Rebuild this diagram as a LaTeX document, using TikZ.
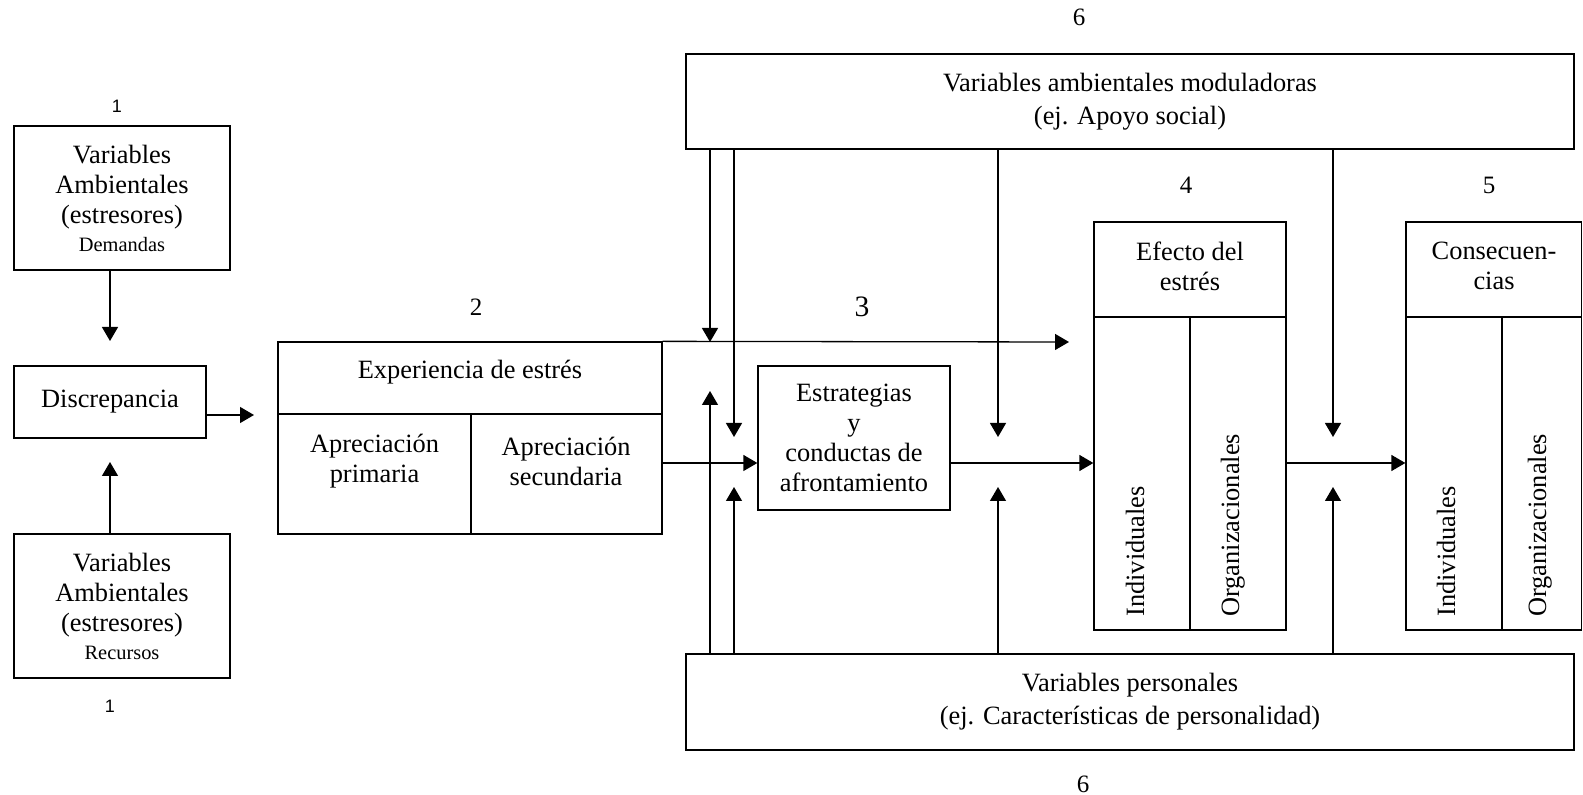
\documentclass[tikz,border=0pt]{standalone}
\usepackage{fontspec}
\setmainfont{Liberation Serif}
\newfontfamily\digitsans{Liberation Sans}
\usetikzlibrary{arrows.meta,calc}

\tikzset{
  frame/.style={draw, line width=0.65pt, inner sep=0pt},
  conn/.style={line width=0.65pt, -{Triangle[length=7pt,width=8pt]}},
  plain/.style={line width=0.65pt},
  txt/.style={align=center, inner sep=0pt, font=\fontsize{13.2}{15}\selectfont},
  widetxt/.style={align=center, inner sep=0pt, font=\fontsize{13.2}{16.5}\selectfont},
  num/.style={inner sep=0pt, font=\fontsize{12.5}{14}\selectfont},
  bignum/.style={inner sep=0pt, font=\fontsize{14.8}{16}\selectfont},
  sansnum/.style={inner sep=0pt, font=\digitsans\fontsize{9}{10}\selectfont},
  vtxt/.style={inner sep=0pt, rotate=90, anchor=base west, font=\fontsize{13.2}{15}\selectfont},
}

\begin{document}
\begin{tikzpicture}[x=0.5pt,y=-0.5pt]
\useasboundingbox (0,0) rectangle (1583,795);

% ---- left column: stressors and discrepancy
\node[frame, txt, minimum width=108pt, minimum height=72pt] (dem) at (122,198)
  {Variables\\Ambientales\\(estresores)\\[-1pt]{\fontsize{10.2}{12}\selectfont Demandas}};
\node[frame, txt, minimum width=96pt, minimum height=36pt] (dis) at (110,402) {Discrepancia};
\node[frame, txt, minimum width=108pt, minimum height=72pt] (rec) at (122,606)
  {Variables\\Ambientales\\(estresores)\\[-1pt]{\fontsize{10.2}{12}\selectfont Recursos}};
\node[sansnum] (n1a) at (117,106) {1};
\node[sansnum] (n1b) at (110,706) {1};

% ---- stress experience
\node[frame, minimum width=192pt, minimum height=96pt] (exp) at (470,438) {};
\draw[plain] (278,414) -- (662,414);
\draw[plain] (471,414) -- (471,534);
\node[txt] (expt) at (470,372) {Experiencia de estrés};
\node[txt] (ap1) at (374.5,461) {Apreciación\\primaria};
\node[txt] (ap2) at (566,461) {Apreciación\\secundaria};
\node[num] (n2) at (476,307) {2};

% ---- coping
\node[frame, txt, minimum width=96pt, minimum height=72pt] (est) at (854,438)
  {Estrategias\\y\\conductas de\\afrontamiento};
\node[bignum] (n3) at (862,307) {3};

% ---- effects of stress
\node[frame, minimum width=96pt, minimum height=204pt] (efe) at (1190,426) {};
\draw[plain] (1094,317) -- (1286,317);
\draw[plain] (1190,317) -- (1190,630);
\node[txt] (efet) at (1190,266) {Efecto del\\estrés};
\node[vtxt] (efe1) at (1144,617) {Individuales};
\node[vtxt] (efe2) at (1239,617) {Organizacionales};
\node[num] (n4) at (1186,185) {4};

% ---- consequences
\node[frame, minimum width=87.75pt, minimum height=204pt] (con) at (1493.75,426) {};
\draw[plain] (1406,317) -- (1581.5,317);
\draw[plain] (1502,317) -- (1502,630);
\node[txt] (cont) at (1494,266) {Consecuen-\\cias};
\node[vtxt] (con1) at (1455,617) {Individuales};
\node[vtxt] (con2) at (1546,617) {Organizacionales};
\node[num] (n5) at (1489,185) {5};

% ---- moderators
\node[frame, widetxt, minimum width=444pt, minimum height=47.5pt] (mod) at (1130,101.5)
  {Variables ambientales moduladoras\\(ej. Apoyo social)};
\node[frame, widetxt, minimum width=444pt, minimum height=48pt] (per) at (1130,702)
  {Variables personales\\(ej. Características de personalidad)};
\node[num] (n6a) at (1079,17) {6};
\node[num] (n6b) at (1083,784) {6};

% ---- free arrow ends
\coordinate (d1) at (110,341);
\coordinate (d2) at (110,462);
\coordinate (d3) at (254,415);
\coordinate (row) at (0,463);
\coordinate (topend) at (1069,342);
\coordinate (m1) at (710,342);
\coordinate (m2) at (734,437);
\coordinate (m3) at (998,437);
\coordinate (m4) at (1333,437);
\coordinate (p1) at (710,391);
\coordinate (p2) at (734,487);
\coordinate (p3) at (998,487);
\coordinate (p4) at (1333,487);

% ---- connectors
\draw[conn] (dem.south -| d1) -- (d1);
\draw[conn] (rec.north -| d2) -- (d2);
\draw[conn] (dis.east |- d3) -- (d3);
\draw[conn] (exp.north east) -- (topend);
\draw[conn] (exp.east |- row) -- (est.west |- row);
\draw[conn] (est.east |- row) -- (efe.west |- row);
\draw[conn] (efe.east |- row) -- (con.west |- row);

\draw[conn] (mod.south -| m1) -- (m1);
\draw[conn] (mod.south -| m2) -- (m2);
\draw[conn] (mod.south -| m3) -- (m3);
\draw[conn] (mod.south -| m4) -- (m4);

\draw[conn] (per.north -| p1) -- (p1);
\draw[conn] (per.north -| p2) -- (p2);
\draw[conn] (per.north -| p3) -- (p3);
\draw[conn] (per.north -| p4) -- (p4);
\end{tikzpicture}
\end{document}
